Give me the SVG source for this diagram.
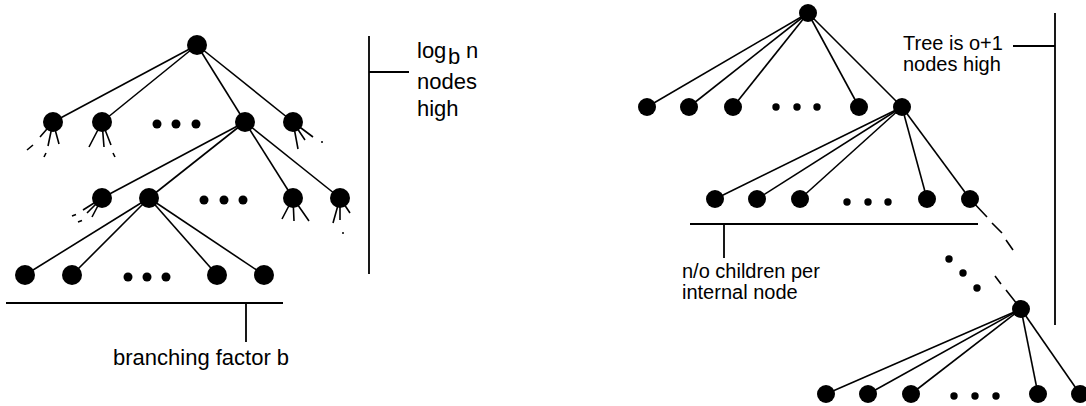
<svg xmlns="http://www.w3.org/2000/svg" width="1086" height="406" viewBox="0 0 1086 406">
  <style>
    .edge { stroke: #000; stroke-width: 1.6; fill: none; stroke-linecap: butt; }
    .stub { stroke: #000; stroke-width: 1.6; fill: none; }
    .bracket { stroke: #000; stroke-width: 1.8; fill: none; }
    .node { fill: #000; }
    .dot { fill: #000; }
    .label { font-family: "Liberation Sans", Arial, sans-serif; font-size: 20px; fill: #000; }
    .label-lg { font-family: "Liberation Sans", Arial, sans-serif; font-size: 22px; fill: #000; }
  </style>

  <!-- ===== Left: balanced tree with branching factor b ===== -->
  <g id="connectors-left">
    <!-- root to level 1 -->
    <line class="edge" x1="197" y1="45" x2="53" y2="122"/>
    <line class="edge" x1="197" y1="45" x2="102" y2="122"/>
    <line class="edge" x1="197" y1="45" x2="245" y2="122"/>
    <line class="edge" x1="197" y1="45" x2="293" y2="122"/>
    <!-- level 1 to level 2 -->
    <line class="edge" x1="245" y1="122" x2="102" y2="198"/>
    <line class="edge" x1="245" y1="122" x2="149" y2="198"/>
    <line class="edge" x1="245" y1="122" x2="293" y2="198"/>
    <line class="edge" x1="245" y1="122" x2="340" y2="198"/>
    <!-- level 2 to level 3 -->
    <line class="edge" x1="149" y1="198" x2="25" y2="275"/>
    <line class="edge" x1="149" y1="198" x2="72" y2="275"/>
    <line class="edge" x1="149" y1="198" x2="217" y2="275"/>
    <line class="edge" x1="149" y1="198" x2="264" y2="275"/>
    <!-- truncated subtrees -->
    <path class="stub" d="M53 122 L40 137 M33 145 L27 150 M53 122 L48 146 M46 153 L44 157 M53 122 L59 144"/>
    <path class="stub" d="M102 122 L89 147 M102 122 L104 147 M102 122 L111 145 M113 153 L115 157"/>
    <path class="stub" d="M293 122 L298 149 M293 122 L305 140 M293 122 L313 137"/>
    <circle class="dot" cx="322" cy="142" r="1"/>
    <path class="stub" d="M102 198 L83 210 M102 198 L87 213 M102 198 L92 217 M72 216 L76 214.5 M78 222 L82 220.5"/>
    <path class="stub" d="M293 198 L282 219 M293 198 L294 221 M293 198 L309 221"/>
    <path class="stub" d="M340 198 L333 223 M340 198 L340 220 M340 198 L350 213"/>
    <circle class="dot" cx="343" cy="233" r="1"/>
  </g>

  <g id="node-left-root"><circle class="node" cx="197" cy="45" r="10"/></g>
  <g id="nodes-left-l1">
    <circle class="node" cx="53" cy="122" r="10"/>
    <circle class="node" cx="102" cy="122" r="10"/>
    <circle class="dot" cx="157" cy="124" r="4.5"/>
    <circle class="dot" cx="176" cy="124" r="4.5"/>
    <circle class="dot" cx="196" cy="124" r="4.5"/>
    <circle class="node" cx="245" cy="122" r="10"/>
    <circle class="node" cx="293" cy="122" r="10"/>
  </g>
  <g id="nodes-left-l2">
    <circle class="node" cx="102" cy="198" r="10"/>
    <circle class="node" cx="149" cy="198" r="10"/>
    <circle class="dot" cx="204" cy="200" r="4.5"/>
    <circle class="dot" cx="224" cy="200" r="4.5"/>
    <circle class="dot" cx="243" cy="200" r="4.5"/>
    <circle class="node" cx="293" cy="198" r="10"/>
    <circle class="node" cx="340" cy="198" r="10"/>
  </g>
  <g id="nodes-left-l3">
    <circle class="node" cx="25" cy="275" r="10"/>
    <circle class="node" cx="72" cy="275" r="10"/>
    <circle class="dot" cx="128" cy="277" r="4.5"/>
    <circle class="dot" cx="147" cy="277" r="4.5"/>
    <circle class="dot" cx="166" cy="277" r="4.5"/>
    <circle class="node" cx="217" cy="275" r="10"/>
    <circle class="node" cx="264" cy="275" r="10"/>
  </g>

  <g id="annotation-branching">
    <path class="bracket" d="M6 303 H283 M246 303 V342"/>
    <text class="label-lg" x="113" y="365">branching factor b</text>
  </g>
  <g id="annotation-height-left">
    <path class="bracket" d="M369 36 V274 M369 72 H409"/>
    <text class="label-lg" x="417" y="58">log<tspan x="448" y="64">b</tspan><tspan x="466" y="58">n</tspan></text>
    <text class="label-lg" x="417" y="89">nodes</text>
    <text class="label-lg" x="417" y="116">high</text>
  </g>

  <!-- ===== Right: tree of o+1 levels, n/o children per internal node ===== -->
  <g id="connectors-right">
    <line class="edge" x1="808" y1="13" x2="647" y2="107"/>
    <line class="edge" x1="808" y1="13" x2="689" y2="107"/>
    <line class="edge" x1="808" y1="13" x2="733" y2="107"/>
    <line class="edge" x1="808" y1="13" x2="859" y2="107"/>
    <line class="edge" x1="808" y1="13" x2="902" y2="107"/>
    <line class="edge" x1="902" y1="107" x2="715" y2="199"/>
    <line class="edge" x1="902" y1="107" x2="757" y2="199"/>
    <line class="edge" x1="902" y1="107" x2="800" y2="199"/>
    <line class="edge" x1="902" y1="107" x2="927" y2="199"/>
    <line class="edge" x1="902" y1="107" x2="970" y2="199"/>
    <!-- elided levels, drawn as broken dashes -->
    <path class="stub" d="M970 199 L987 217 M992 223 L1002 233 M1006 240 L1013 250"/>
    <path class="stub" d="M995 276 L1001 284 M1006 290 L1021 309"/>
    <line class="edge" x1="1021" y1="309" x2="826" y2="394"/>
    <line class="edge" x1="1021" y1="309" x2="868" y2="394"/>
    <line class="edge" x1="1021" y1="309" x2="911" y2="394"/>
    <line class="edge" x1="1021" y1="309" x2="1038" y2="394"/>
    <line class="edge" x1="1021" y1="309" x2="1080" y2="394"/>
  </g>

  <g id="node-right-root"><circle class="node" cx="808" cy="13" r="9"/></g>
  <g id="nodes-right-l1">
    <circle class="node" cx="647" cy="107" r="9"/>
    <circle class="node" cx="689" cy="107" r="9"/>
    <circle class="node" cx="733" cy="107" r="9"/>
    <circle class="dot" cx="776" cy="107" r="3.7"/>
    <circle class="dot" cx="797" cy="107" r="3.7"/>
    <circle class="dot" cx="817" cy="107" r="3.7"/>
    <circle class="node" cx="859" cy="107" r="9"/>
    <circle class="node" cx="902" cy="107" r="9"/>
  </g>
  <g id="nodes-right-l2">
    <circle class="node" cx="715" cy="199" r="9"/>
    <circle class="node" cx="757" cy="199" r="9"/>
    <circle class="node" cx="800" cy="199" r="9"/>
    <circle class="dot" cx="847" cy="202" r="3.7"/>
    <circle class="dot" cx="868" cy="202" r="3.7"/>
    <circle class="dot" cx="888" cy="202" r="3.7"/>
    <circle class="node" cx="927" cy="199" r="9"/>
    <circle class="node" cx="970" cy="199" r="9"/>
  </g>
  <g id="elision-dots">
    <circle class="dot" cx="949" cy="259" r="3.7"/>
    <circle class="dot" cx="963" cy="273" r="3.7"/>
    <circle class="dot" cx="977" cy="288" r="3.7"/>
  </g>
  <g id="node-right-internal"><circle class="node" cx="1021" cy="309" r="9"/></g>
  <g id="nodes-right-leaves">
    <circle class="node" cx="826" cy="394" r="9"/>
    <circle class="node" cx="868" cy="394" r="9"/>
    <circle class="node" cx="911" cy="394" r="9"/>
    <circle class="dot" cx="954" cy="396" r="3.7"/>
    <circle class="dot" cx="975" cy="396" r="3.7"/>
    <circle class="dot" cx="996" cy="396" r="3.7"/>
    <circle class="node" cx="1038" cy="394" r="9"/>
    <circle class="node" cx="1080" cy="394" r="9"/>
  </g>

  <g id="annotation-children">
    <path class="bracket" d="M690 224 H978 M724 224 V258"/>
    <text class="label" x="682" y="278">n/o children per</text>
    <text class="label" x="682" y="299">internal node</text>
  </g>
  <g id="annotation-height-right">
    <path class="bracket" d="M1055 13 V325 M1013 46 H1055"/>
    <text class="label" x="903" y="50">Tree is o+1</text>
    <text class="label" x="903" y="71">nodes high</text>
  </g>
</svg>
